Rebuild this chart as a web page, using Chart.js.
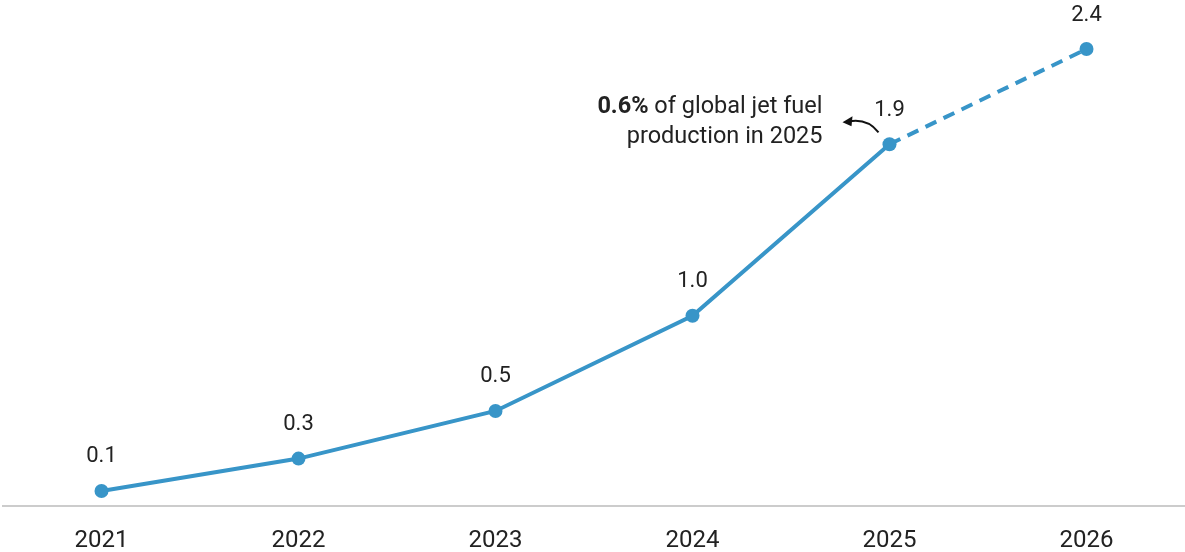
<!DOCTYPE html>
<html>
<head>
<meta charset="utf-8">
<script src="https://cdn.jsdelivr.net/npm/chart.js@4"></script>
<style>
  html, body { margin: 0; padding: 0; background: #fff; }
  #wrap { width: 1185px; height: 552px; }
</style>
</head>
<body>
<div id="wrap"><canvas id="chart"></canvas></div>
<script>
const years = ['2021', '2022', '2023', '2024', '2025', '2026'];
const production = [0.08, 0.25, 0.5, 1.0, 1.9, 2.4];
const valueLabels = ['0.1', '0.3', '0.5', '1.0', '1.9', '2.4'];
const forecastFrom = 4; // segment 2025 -> 2026 is dashed

const blue = '#3895c8';

// data labels above points + annotation near 2025
const labelPlugin = {
  id: 'labels',
  afterDatasetsDraw(chart) {
    const ctx = chart.ctx;
    const meta = chart.getDatasetMeta(0);
    ctx.save();
    ctx.fillStyle = '#222';
    ctx.font = '22px Roboto';
    ctx.textAlign = 'center';
    ctx.textBaseline = 'middle';
    meta.data.forEach((pt, i) => {
      ctx.fillText(valueLabels[i], pt.x, pt.y - 34);
    });

    // annotation
    const p = meta.data[4];
    const right = p.x - 67;
    ctx.textAlign = 'right';
    ctx.font = '23.5px Roboto';
    const rest = ' of global jet fuel';
    const restW = ctx.measureText(rest).width;
    ctx.fillText(rest, right, p.y - 37);
    ctx.font = 'bold 23.5px Roboto';
    ctx.fillText('0.6%', right - restW, p.y - 37);
    ctx.font = '23.5px Roboto';
    ctx.fillText('production in 2025', right, p.y - 7);

    // curved arrow
    ctx.strokeStyle = '#111';
    ctx.lineWidth = 2;
    ctx.beginPath();
    ctx.moveTo(p.x - 11, p.y - 12);
    ctx.quadraticCurveTo(p.x - 22, p.y - 26, p.x - 40, p.y - 23);
    ctx.stroke();
    ctx.fillStyle = '#111';
    ctx.beginPath();
    ctx.moveTo(p.x - 47, p.y - 22);
    ctx.lineTo(p.x - 37, p.y - 28);
    ctx.lineTo(p.x - 38, p.y - 18);
    ctx.closePath();
    ctx.fill();
    ctx.restore();
  }
};

new Chart(document.getElementById('chart'), {
  type: 'line',
  data: {
    labels: years,
    datasets: [{
      data: production,
      borderColor: blue,
      backgroundColor: blue,
      borderWidth: 4,
      pointRadius: 7,
      pointHoverRadius: 7,
      pointBorderWidth: 0,
      tension: 0,
      segment: {
        borderDash: c => c.p0DataIndex >= forecastFrom ? [12, 8] : undefined
      }
    }]
  },
  options: {
    responsive: true,
    maintainAspectRatio: false,
    animation: false,
    layout: { autoPadding: false, padding: { top: 30, left: 3, right: 0, bottom: -23 } },
    plugins: {
      legend: { display: false },
      tooltip: { enabled: false }
    },
    scales: {
      x: {
        offset: true,
        grid: { display: false, drawTicks: false },
        border: { display: true, color: '#cccccc', width: 2 },
        ticks: {
          color: '#222',
          font: { family: 'Roboto', size: 24 },
          padding: 20
        }
      },
      y: {
        display: false,
        min: 0,
        max: 2.5
      }
    }
  },
  plugins: [labelPlugin]
});
</script>
</body>
</html>
